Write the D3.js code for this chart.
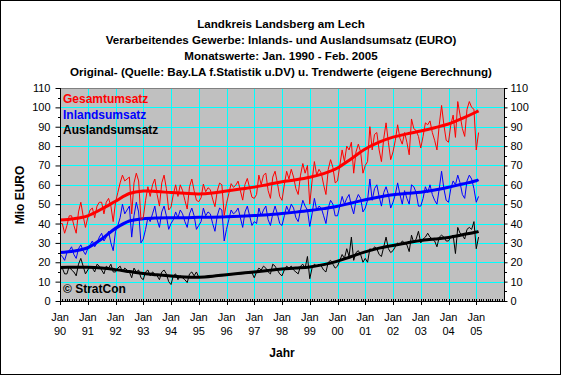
<!DOCTYPE html>
<html>
<head>
    <meta charset="utf-8">
    <script src="https://cdn.jsdelivr.net/npm/d3@7/dist/d3.min.js" type="text/javascript"></script>
    <style>
        body { margin: 0; background: #fff; }
        text { font-family: Arial, "Liberation Sans", sans-serif; }
    </style>
</head>
<body>
    <div id="viz"></div>
    <script type="text/javascript">

    // Monatswerte Jan. 1990 - Feb. 2005 (Mio EURO), one row per year
    var gesamt = [
        40, 40, 35, 39, 44, 44, 39, 35, 46, 51, 44, 38,
        43, 47, 48, 43, 49, 51, 51, 45, 51, 53, 49, 41,
        51, 56, 61, 65, 62, 63, 64, 45, 61, 66, 62, 42,
        43, 52, 59, 54, 60, 63, 55, 49, 61, 65, 58, 47,
        48.5, 55, 60, 54, 60, 57, 52, 47.5, 59, 63, 57, 52,
        51.3, 53.3, 60.4, 56.4, 58.5, 57.5, 52.6, 48.7, 56.8, 60.9, 60, 44.2,
        50.4, 55.5, 60.6, 58.7, 59.8, 61.9, 57, 52.1, 60.2, 63.3, 58.4, 53.6,
        53, 55, 65, 60, 65, 66, 57, 53, 64, 67, 61, 54,
        52, 60, 67, 63, 68, 64, 58, 55, 65, 71, 66, 70,
        50, 62, 72, 65, 68, 66, 60, 55, 68, 73, 69, 61,
        62, 70, 78, 72, 80, 78, 82, 66, 77, 81, 77, 66,
        70, 72, 90, 78, 86, 87, 78, 72, 84, 92, 82, 73,
        77, 83, 91, 84, 81, 87, 82, 75.5, 94, 89, 88, 85,
        79, 85, 92, 91, 93, 87, 83, 78, 91, 101, 91, 83,
        82, 91, 96, 84.5, 103, 96, 89, 85, 99, 103, 100, 99,
        78, 87
    ];
    var inland = [
        24, 23, 21, 25, 26, 28, 24, 22, 27, 29, 26, 24,
        27, 29, 31, 28, 30, 33, 35, 31, 33, 36, 30, 26,
        36, 39, 43, 50, 45, 47, 49, 33, 44, 51, 46, 30,
        32, 37, 43, 41, 45, 49, 42, 38, 46, 49, 44, 37,
        40, 42, 46, 43, 47, 45, 41, 38, 45, 48, 44, 37,
        39, 41, 48, 44, 46, 45, 40, 36, 44, 48, 47, 31,
        37, 42, 47, 45, 46, 48, 43, 38, 46, 49, 44, 39,
        41, 40, 48, 44, 47, 49, 42, 39, 45, 49, 45, 40,
        39, 44, 49, 46, 50, 48, 43, 41, 47, 52, 49, 47,
        38.5, 45, 53, 47, 49, 48, 44, 40, 48, 52, 50, 44,
        44, 49, 54, 50, 53, 55, 49, 45, 52, 55, 53, 46,
        48, 52, 63, 52, 58, 60, 54, 49, 56, 59, 55, 48,
        51, 55, 61, 55, 50, 57, 53, 50, 60, 59, 56, 49,
        49, 53, 59, 56, 60, 55, 52, 50, 58, 67, 58, 52,
        51, 58, 62, 60, 65, 61, 55, 53, 62, 65, 63, 58,
        51, 54
    ];
    var ausland = [
        16, 17, 14, 14, 18, 16, 15, 13, 19, 22, 18, 14,
        16, 18, 17, 15, 19, 18, 16, 14, 18, 17, 19, 15,
        15, 17, 18, 15, 17, 16, 15, 12, 17, 15, 16, 12,
        11, 15, 16, 13, 15, 14, 13, 11, 15, 16, 14, 10,
        8.5, 13, 14, 11, 13, 12, 11, 9.5, 14, 15, 13, 15,
        12.3, 12.3, 12.4, 12.4, 12.5, 12.5, 12.6, 12.7, 12.8, 12.9, 13.0, 13.2,
        13.4, 13.5, 13.6, 13.7, 13.8, 13.9, 14.0, 14.1, 14.2, 14.3, 14.4, 14.6,
        12, 15, 17, 16, 18, 17, 15, 14, 19, 18, 16, 14,
        13, 16, 18, 17, 18, 16, 15, 14, 18, 19, 17, 23,
        11.5, 17, 19, 18, 19, 18, 16, 15, 20, 21, 19, 17,
        18, 21, 24, 22, 27, 23, 33, 21, 25, 26, 24, 20,
        22, 20, 27, 26, 28, 27, 24, 23, 28, 33, 27, 25,
        26, 28, 30, 29, 31, 30, 29, 25.5, 34, 30, 32, 36,
        30, 32, 33, 35, 33, 32, 31, 28, 33, 34, 33, 31,
        31, 33, 34, 24.5, 38, 35, 34, 32, 37, 38, 37, 41,
        27, 33
    ];

    // Trendwerte, every half year (Jan / Jul) plus Feb 2005
    var trendMonths = [0, 6, 12, 18, 24, 30, 36, 42, 48, 54, 60, 66, 72, 78, 84, 90,
        96, 102, 108, 114, 120, 126, 132, 138, 144, 150, 156, 162, 168, 174, 180, 181];
    var gesamtTrend = [41.8, 42.5, 44, 47.5, 51.5, 55.5, 56.8, 56.5, 56, 55.6, 55.3, 55.8,
        56.8, 57.8, 58.8, 60.2, 61.6, 62.6, 63.9, 65.8, 68.7, 73.5, 78.5, 82,
        84.6, 86.3, 87.8, 89.5, 91.4, 94.3, 97.6, 98.2];
    var inlandTrend = [25, 25.8, 27.5, 32, 37.5, 41.3, 42.5, 42.9, 43, 43, 43.2, 43.3,
        43.5, 43.8, 44.2, 44.6, 45.2, 45.9, 46.7, 47.7, 48.9, 50.6, 52.3, 53.7,
        54.9, 55.6, 56.2, 57.3, 58.7, 60.4, 62.1, 62.6];
    var auslandTrend = [17.3, 17.4, 17.4, 17, 16.2, 15.2, 14.2, 13.5, 12.9, 12.4, 12.3, 12.8,
        13.6, 14.3, 15, 15.8, 16.5, 17, 17.6, 18.8, 20.6, 23, 25.4, 27.3,
        28.7, 30, 31.3, 32, 32.8, 34.2, 35.6, 36];

    var yearLabels = ["90", "91", "92", "93", "94", "95", "96", "97", "98", "99",
        "00", "01", "02", "03", "04", "05"];
    var yTicks = [0, 10, 20, 30, 40, 50, 60, 70, 80, 90, 100, 110];

    var titleLines = [
        "Landkreis Landsberg am Lech",
        "Verarbeitendes Gewerbe: Inlands- und Auslandsumsatz (EURO)",
        "Monatswerte: Jan. 1990 - Feb. 2005",
        "Original- (Quelle: Bay.LA f.Statistik u.DV) u. Trendwerte (eigene Berechnung)"
    ];

    var W = 561, H = 375;
    var pL = 60, pR = 504, pT = 88, pB = 301;

    var svg = d3.select("#viz").append("svg")
        .attr("width", W).attr("height", H);

    svg.append("rect").attr("x", 0.5).attr("y", 0.5)
        .attr("width", W - 1).attr("height", H - 1)
        .style("fill", "white").style("stroke", "black");

    var x = d3.scaleLinear().domain([0, 192]).range([pL, pR]);
    var y = d3.scaleLinear().domain([0, 110]).range([pB, pT]);

    // plot area
    svg.append("rect").attr("x", pL).attr("y", pT)
        .attr("width", pR - pL).attr("height", pB - pT)
        .style("fill", "#c0c0c0");

    var jan = yearLabels.map(function(d, i) { return i * 12; });

    svg.append("g").selectAll("line").data(yTicks.slice(1, -1)).enter()
        .append("line")
        .attr("x1", pL).attr("x2", pR)
        .attr("y1", function(d) { return Math.round(y(d)) + 0.5; })
        .attr("y2", function(d) { return Math.round(y(d)) + 0.5; })
        .style("stroke", "#00ffff");
    svg.append("g").selectAll("line").data(jan.slice(1)).enter()
        .append("line")
        .attr("y1", pT).attr("y2", pB)
        .attr("x1", function(d) { return Math.round(x(d)) + 0.5; })
        .attr("x2", function(d) { return Math.round(x(d)) + 0.5; })
        .style("stroke", "#00ffff");

    svg.append("line").attr("x1", pL).attr("x2", pR)
        .attr("y1", pT + 0.5).attr("y2", pT + 0.5).style("stroke", "#808080");

    svg.append("defs").append("clipPath").attr("id", "clip")
        .append("rect").attr("x", pL).attr("y", pT)
        .attr("width", pR - pL).attr("height", pB - pT);

    var plot = svg.append("g").attr("clip-path", "url(#clip)");

    var raw = d3.line().x(function(d, i) { return x(i); }).y(function(d) { return y(d); });
    var trend = d3.line()
        .x(function(d, i) { return x(trendMonths[i]); })
        .y(function(d) { return y(d); })
        .curve(d3.curveCatmullRom.alpha(0.5));

    var series = [
        { raw: ausland, trend: auslandTrend, color: "#000000" },
        { raw: inland, trend: inlandTrend, color: "#0000ff" },
        { raw: gesamt, trend: gesamtTrend, color: "#ff0000" }
    ];
    series.forEach(function(s) {
        plot.append("path").attr("d", raw(s.raw))
            .style("fill", "none").style("stroke", s.color).style("stroke-width", 1);
        plot.append("path").attr("d", trend(s.trend))
            .style("fill", "none").style("stroke", s.color).style("stroke-width", 3);
    });

    // axes
    var yLeft = d3.axisLeft(y).tickValues(yTicks).tickSize(5).tickPadding(5);
    var yRight = d3.axisRight(y).tickValues(yTicks).tickSize(3).tickPadding(3);
    var gl = svg.append("g").attr("transform", "translate(" + (pL + 0.5) + ",0)").call(yLeft);
    var gr = svg.append("g").attr("transform", "translate(" + (pR + 0.5) + ",0)").call(yRight);
    [gl, gr].forEach(function(g) {
        g.select(".domain").remove();
        g.selectAll("text").style("font-size", "11px").style("fill", "black")
            .style("font-family", "Arial, 'Liberation Sans', sans-serif");
    });
    svg.append("line").attr("x1", pL + 0.5).attr("x2", pL + 0.5)
        .attr("y1", pT).attr("y2", pB + 1).style("stroke", "black");
    svg.append("line").attr("x1", pR + 0.5).attr("x2", pR + 0.5)
        .attr("y1", pT).attr("y2", pB + 1).style("stroke", "black");

    // minor y ticks at the half steps
    var halfs = yTicks.slice(0, -1).map(function(d) { return d + 5; });
    svg.append("g").selectAll("line").data(halfs).enter().append("line")
        .attr("x1", pL - 2).attr("x2", pL)
        .attr("y1", function(d) { return Math.round(y(d)) + 0.5; })
        .attr("y2", function(d) { return Math.round(y(d)) + 0.5; })
        .style("stroke", "black");
    svg.append("g").selectAll("line").data(halfs).enter().append("line")
        .attr("x1", pR + 1).attr("x2", pR + 3)
        .attr("y1", function(d) { return Math.round(y(d)) + 0.5; })
        .attr("y2", function(d) { return Math.round(y(d)) + 0.5; })
        .style("stroke", "black");

    // x axis: monthly minor ticks, yearly major ticks
    svg.append("line").attr("x1", pL).attr("x2", pR + 1)
        .attr("y1", pB + 0.5).attr("y2", pB + 0.5).style("stroke", "black");
    svg.append("g").selectAll("line").data(d3.range(1, 192)).enter().append("line")
        .attr("x1", function(d) { return Math.round(x(d)) + 0.5; })
        .attr("x2", function(d) { return Math.round(x(d)) + 0.5; })
        .attr("y1", pB - 2).attr("y2", pB)
        .style("stroke", "black");
    svg.append("g").selectAll("line").data(jan).enter().append("line")
        .attr("x1", function(d) { return Math.round(x(d)) + 0.5; })
        .attr("x2", function(d) { return Math.round(x(d)) + 0.5; })
        .attr("y1", pB).attr("y2", pB + 4)
        .style("stroke", "black");

    var xl = svg.append("g").selectAll("g").data(jan).enter().append("g")
        .attr("transform", function(d) { return "translate(" + x(d) + ",0)"; });
    xl.append("text").attr("y", 321).attr("text-anchor", "middle")
        .style("font-size", "11px").text("Jan");
    xl.append("text").attr("y", 335).attr("text-anchor", "middle")
        .style("font-size", "11px").text(function(d, i) { return yearLabels[i]; });

    // titles
    svg.append("g").selectAll("text").data(titleLines).enter().append("text")
        .attr("x", 281).attr("y", function(d, i) { return 28 + i * 16; })
        .attr("text-anchor", "middle")
        .style("font-size", "11.6px").style("font-weight", "bold")
        .text(function(d) { return d; });

    svg.append("text").attr("x", 282).attr("y", 357).attr("text-anchor", "middle")
        .style("font-size", "12px").style("font-weight", "bold").text("Jahr");
    svg.append("text").attr("transform", "translate(24,195) rotate(-90)")
        .attr("text-anchor", "middle")
        .style("font-size", "12px").style("font-weight", "bold").text("Mio EURO");

    // legend
    var legend = [
        { name: "Gesamtumsatz", color: "#ff0000" },
        { name: "Inlandsumsatz", color: "#0000ff" },
        { name: "Auslandsumsatz", color: "#000000" }
    ];
    svg.append("g").selectAll("text").data(legend).enter().append("text")
        .attr("x", 63).attr("y", function(d, i) { return 103 + i * 15.5; })
        .style("font-size", "12px").style("font-weight", "bold")
        .style("fill", function(d) { return d.color; })
        .text(function(d) { return d.name; });

    svg.append("text").attr("x", 63).attr("y", 293)
        .style("font-size", "12px").style("font-weight", "bold").text("\u00a9 StratCon");

    </script>
</body>
</html>
